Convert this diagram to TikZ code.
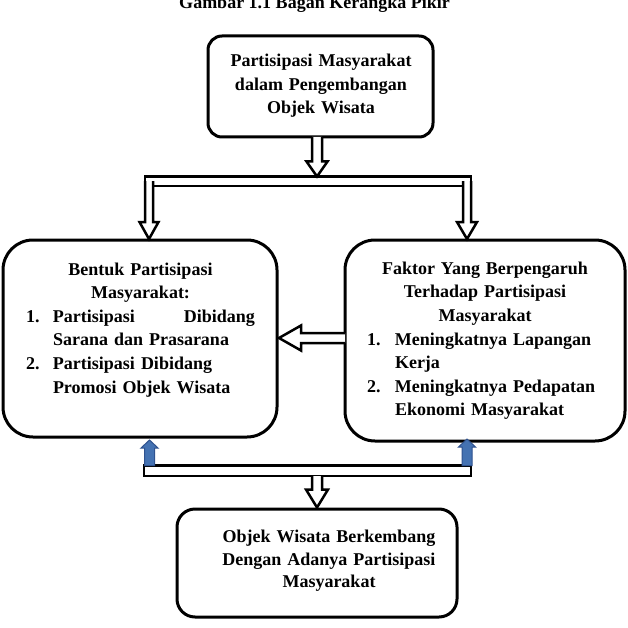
\documentclass[tikz,border=0pt]{standalone}
\usepackage{fontspec}
\setmainfont{Liberation Serif}
\usetikzlibrary{calc}

\definecolor{arrowblue}{RGB}{68,114,178}
\definecolor{arrowblueline}{RGB}{47,82,143}

% Vertical block arrow: style, tail, tip, shaft half-width, head half-width,
% head length (measured from the tip towards the tail), path ending
\newcommand\vblock[7]{%
  \coordinate (vb-tail) at #2;
  \coordinate (vb-tip) at #3;
  \filldraw[#1] ($(vb-tail)+({-#4},0)$) -- ($(vb-tip)+({-#4},{-(#6)})$)
    -- ($(vb-tip)+({-#5},{-(#6)})$) -- (vb-tip) -- ($(vb-tip)+({#5},{-(#6)})$)
    -- ($(vb-tip)+({#4},{-(#6)})$) -- ($(vb-tail)+({#4},0)$) #7;
}
% Horizontal block arrow pointing left: same arguments
\newcommand\hblock[7]{%
  \coordinate (hb-tail) at #2;
  \coordinate (hb-tip) at #3;
  \filldraw[#1] ($(hb-tail)+(0,{-#4})$) -- ($(hb-tip)+({#6},{-#4})$)
    -- ($(hb-tip)+({#6},{-#5})$) -- (hb-tip) -- ($(hb-tip)+({#6},{#5})$)
    -- ($(hb-tip)+({#6},{#4})$) -- ($(hb-tail)+(0,{#4})$) #7;
}

\begin{document}
\begin{tikzpicture}[x=1pt, y=-1pt,
  frame/.style={draw=black, line width=3pt, fill=white, inner sep=0pt, outer sep=0pt},
  barbox/.style={draw=black, line width=2.6pt, fill=white, inner sep=0pt, outer sep=0pt},
  hollow/.style={draw=black, fill=white, line width=2.5pt},
  bluearrow/.style={draw=arrowblueline, fill=arrowblue, line width=1pt},
  txt/.style={font=\bfseries\fontsize{18}{23.6}\selectfont, inner sep=0pt, outer sep=0pt}]

\useasboundingbox (0,0) rectangle (628,628);
\fill[white] (0,0) rectangle (628,628);

% caption
\node[txt, anchor=base] (title) at (314.5,8.5) {Gambar 1.1 Bagan Kerangka Pikir};

% boxes
\node[frame, rounded corners=14pt, minimum width=225pt, minimum height=101pt] (top) at (320.5,86.5) {};
\node[frame, rounded corners=30pt, minimum width=274pt, minimum height=197pt] (lbox) at (140,338.5) {};
\node[frame, rounded corners=30pt, minimum width=280pt, minimum height=201pt] (rbox) at (485,340.5) {};
\node[frame, rounded corners=18pt, minimum width=280pt, minimum height=108pt] (bot) at (317,563) {};

% distribution bars
\node[barbox, minimum width=326pt, minimum height=9.5pt] (bar1) at (308,181.25) {};
\node[barbox, minimum width=327pt, minimum height=10.5pt] (bar2) at (307.5,470.75) {};

% hollow block arrows
\vblock{hollow}{($(top.south)+(-3.5,0)$)}{($(bar1.north)+(9,0)$)}{5}{10.5}{15}{}
\vblock{hollow}{($(bar1.west)+(4,0)$)}{($(lbox.north)+(9,-1)$)}{4}{9.5}{17}{}
\vblock{hollow}{($(bar1.east)+(-4,0)$)}{($(rbox.north)+(-18,-1)$)}{4}{10}{17}{}
\hblock{hollow}{($(rbox.west)+(0,-2.5)$)}{($(lbox.east)+(2,-0.5)$)}{5}{12.5}{22}{}
\vblock{hollow}{(bar2.south -| bot.north)}{($(bot.north)+(0,-1.5)$)}{5}{11}{18}{}

% blue arrows from the lower bar
\vblock{bluearrow}{($(bar2.north west)+(5.5,0)$)}{($(lbox.south)+(9.5,3)$)}{5}{8.5}{-8}{-- cycle}
\vblock{bluearrow}{($(bar2.north east)+(-4,0)$)}{($(rbox.south)+(-18,-2)$)}{5}{8.5}{-8}{-- cycle}

% texts
\node[txt, text width=220pt, align=center, anchor=base] (toptext) at (321,66.5)
  {Partisipasi Masyarakat\\dalam Pengembangan\\Objek Wisata};

\node[txt, text width=229pt, align=left, anchor=base west] (ltext) at (26,275) {%
  \setlength\parindent{0pt}%
  {\centering Bentuk Partisipasi\par Masyarakat:\par}%
  \makebox[27pt][l]{1.}Partisipasi\hfill Dibidang\par
  \hspace*{27pt}Sarana dan Prasarana\par
  \makebox[27pt][l]{2.}Partisipasi Dibidang\par
  \hspace*{27pt}Promosi Objek Wisata};

\node[txt, text width=236pt, align=left, anchor=base west] (rtext) at (367,274.3) {%
  \setlength\parindent{0pt}%
  {\centering Faktor Yang Berpengaruh\par Terhadap Partisipasi\par Masyarakat\par}%
  \makebox[28pt][l]{1.}Meningkatnya Lapangan\par
  \hspace*{28pt}Kerja\par
  \makebox[28pt][l]{2.}Meningkatnya Pedapatan\par
  \hspace*{28pt}Ekonomi Masyarakat};

\node[txt, font=\bfseries\fontsize{18}{22.3}\selectfont, text width=215pt, align=center, anchor=base] (bottext) at (329,542.7)
  {Objek Wisata Berkembang\\Dengan Adanya Partisipasi\\Masyarakat};

\end{tikzpicture}
\end{document}
